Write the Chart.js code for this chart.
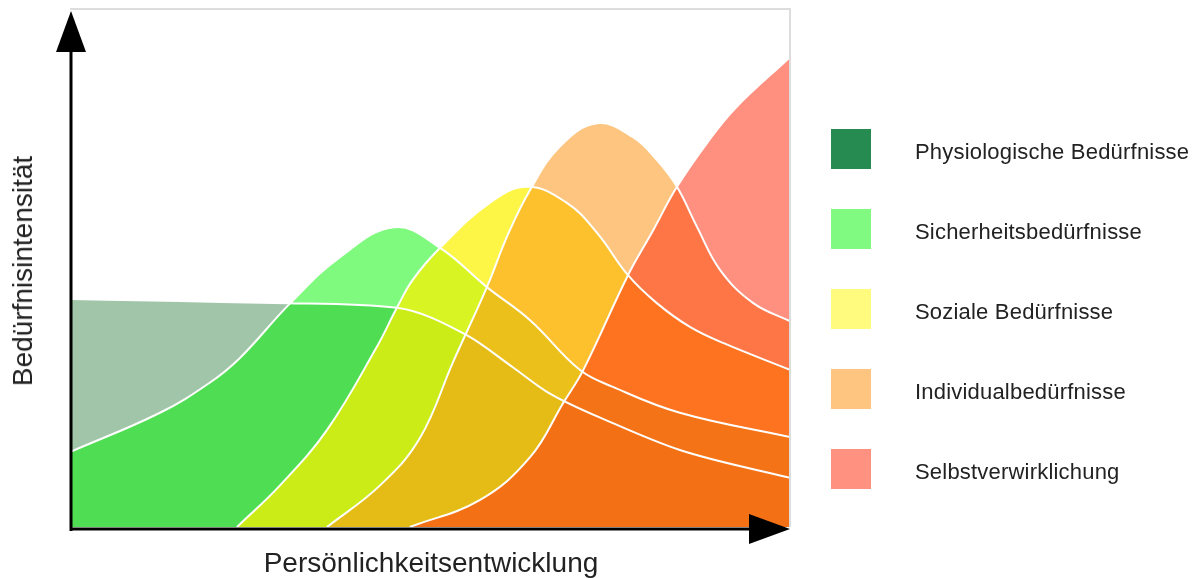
<!DOCTYPE html>
<html lang="de">
<head>
    <meta charset="UTF-8">
    <title>Bedürfnisintensität</title>
    <style>
        html, body { margin: 0; padding: 0; background: #fff; overflow: hidden; }
        #wrap { position: relative; width: 1199px; height: 578px; font-family: "Liberation Sans", Arial, Helvetica, sans-serif; color: #222; }
        #chart { position: absolute; left: 0; top: 0; }
        .axis-title { position: absolute; font-size: 28px; line-height: 32px; white-space: nowrap; }
        #xTitle { left: 431px; top: 547px; transform: translateX(-50%); }
        #yTitle { left: 23px; top: 271px; transform: translate(-50%, -50%) rotate(-90deg); }
        .legend-item { position: absolute; left: 831px; width: 360px; height: 40px; }
        .legend-item .box { position: absolute; left: 0; top: 0; width: 40px; height: 40px; }
        .legend-item .label { position: absolute; left: 84px; top: 10px; font-size: 22px; line-height: 26px; letter-spacing: 0.2px; white-space: nowrap; }
    </style>
</head>
<body>
    <div id="wrap">
        <canvas id="chart" width="1199" height="578"></canvas>
        <div class="axis-title" id="yTitle">Bedürfnisintensität</div>
        <div class="axis-title" id="xTitle">Persönlichkeitsentwicklung</div>
        <div id="legend"></div>
    </div>
    <script src="https://cdn.jsdelivr.net/npm/chart.js"></script>
    <script>
        // Kategorien (Legende)
        const categories = ['Physiologische Bedürfnisse', 'Sicherheitsbedürfnisse', 'Soziale Bedürfnisse', 'Individualbedürfnisse', 'Selbstverwirklichung'];

        // Kurven: x = Entwicklung (0-100), y = Intensität (0-100)
        const physX = [0, 15.3, 30.1, 45.4, 55.1, 61.5, 66.3, 75.4, 84.7, 100];
        const physY = [44.1, 43.7, 43.3, 42.4, 37.1, 30.9, 26.1, 20.1, 14.9, 9.5];

        const sichX = [0, 12.5, 19.4, 23.6, 30.6, 37.5, 45.1, 51.4, 57.9, 63.9, 70.8, 75.4, 84.7, 100];
        const sichY = [14.5, 22.1, 27.9, 32.7, 43.3, 52.2, 58.0, 54.0, 46.4, 40.0, 30.4, 27.1, 22.1, 17.4];

        const sozX = [23.2, 29.2, 35.7, 42.6, 45.4, 47.6, 51.4, 58.3, 63.5, 69.0, 73.2, 77.5, 81.5, 86.1, 90.7, 100];
        const sozY = [0, 8.1, 18.8, 34.8, 42.4, 47.8, 54.0, 62.7, 65.8, 62.7, 56.9, 48.7, 43.3, 38.7, 35.6, 30.4];

        const indX = [35.7, 43.1, 48.6, 53.2, 57.9, 60.8, 63.9, 68.1, 73.2, 78.2, 81.5, 84.3, 87.1, 90.3, 94.9, 100];
        const indY = [0, 8.1, 17.2, 31.9, 46.4, 56.5, 65.2, 73.7, 78.1, 75.4, 71.0, 65.8, 58.0, 49.7, 43.3, 39.8];

        const selbX = [47.2, 56.9, 63.9, 68.5, 71.3, 77.5, 81.0, 84.3, 88.5, 92.4, 100];
        const selbY = [0, 5.2, 13.5, 24.0, 30.4, 48.7, 57.4, 65.8, 74.3, 81.0, 90.9];

        const fillColors = ['rgba(65,139,81,0.5)', 'rgba(0,245,0,0.5)', 'rgba(252,242,0,0.72)', 'rgba(252,148,20,0.54)', 'rgba(255,50,20,0.54)'];
        const legendColors = ['#268b50', '#80fa80', '#fefb7e', '#fdc580', '#ff9180'];

        const seriesX = [physX, sichX, sozX, indX, selbX];
        const seriesY = [physY, sichY, sozY, indY, selbY];

        // Legende als HTML
        const legend = document.getElementById('legend');
        categories.forEach((name, i) => {
            const item = document.createElement('div');
            item.className = 'legend-item';
            item.style.top = (129 + i * 80) + 'px';
            item.innerHTML = `<div class="box" style="background:${legendColors[i]}"></div><div class="label">${name}</div>`;
            legend.appendChild(item);
        });

        // Achsen mit Pfeilen + heller Rahmen
        const axisArrows = {
            id: 'axisArrows',
            afterDatasetsDraw(chart) {
                const { ctx, chartArea: a } = chart;
                ctx.save();
                ctx.strokeStyle = '#dddddd';
                ctx.lineWidth = 2;
                ctx.beginPath();
                ctx.moveTo(a.left, a.top - 1);
                ctx.lineTo(a.right, a.top - 1);
                ctx.lineTo(a.right, a.bottom);
                ctx.stroke();

                ctx.strokeStyle = '#000';
                ctx.fillStyle = '#000';
                ctx.lineWidth = 3;
                ctx.beginPath();
                ctx.moveTo(a.left + 1, a.bottom + 4);
                ctx.lineTo(a.left + 1, a.top + 40);
                ctx.moveTo(a.left - 0.5, a.bottom + 2);
                ctx.lineTo(a.right - 40, a.bottom + 2);
                ctx.stroke();

                // Pfeilspitze oben
                ctx.beginPath();
                ctx.moveTo(a.left + 1, a.top + 1);
                ctx.lineTo(a.left - 14, a.top + 42);
                ctx.lineTo(a.left + 16, a.top + 42);
                ctx.closePath();
                ctx.fill();
                // Pfeilspitze rechts
                ctx.beginPath();
                ctx.moveTo(a.right, a.bottom + 2);
                ctx.lineTo(a.right - 41, a.bottom - 13);
                ctx.lineTo(a.right - 41, a.bottom + 17);
                ctx.closePath();
                ctx.fill();
                ctx.restore();
            }
        };

        const datasets = categories.map((name, i) => ({
            label: name,
            data: seriesX[i].map((x, j) => ({ x: x, y: seriesY[i][j] })),
            backgroundColor: fillColors[i],
            borderColor: '#ffffff',
            borderWidth: 2,
            fill: 'origin',
            pointRadius: 0,
            tension: 0.4,
            // die fallende Grundkurve ohne Überschwinger
            cubicInterpolationMode: i === 0 ? 'monotone' : 'default',
            order: categories.length - i // erste Kurve ganz unten
        }));

        new Chart(document.getElementById('chart'), {
            type: 'line',
            data: { datasets: datasets },
            options: {
                responsive: false,
                animation: false,
                layout: { padding: { left: 70, top: 10, right: 409, bottom: 51 } },
                scales: {
                    x: { type: 'linear', min: 0, max: 100, display: false },
                    y: { type: 'linear', min: 0, max: 100, display: false }
                },
                plugins: {
                    legend: { display: false },
                    tooltip: { enabled: false },
                    filler: { drawTime: 'beforeDatasetsDraw' }
                }
            },
            plugins: [axisArrows]
        });
    </script>
</body>
</html>
